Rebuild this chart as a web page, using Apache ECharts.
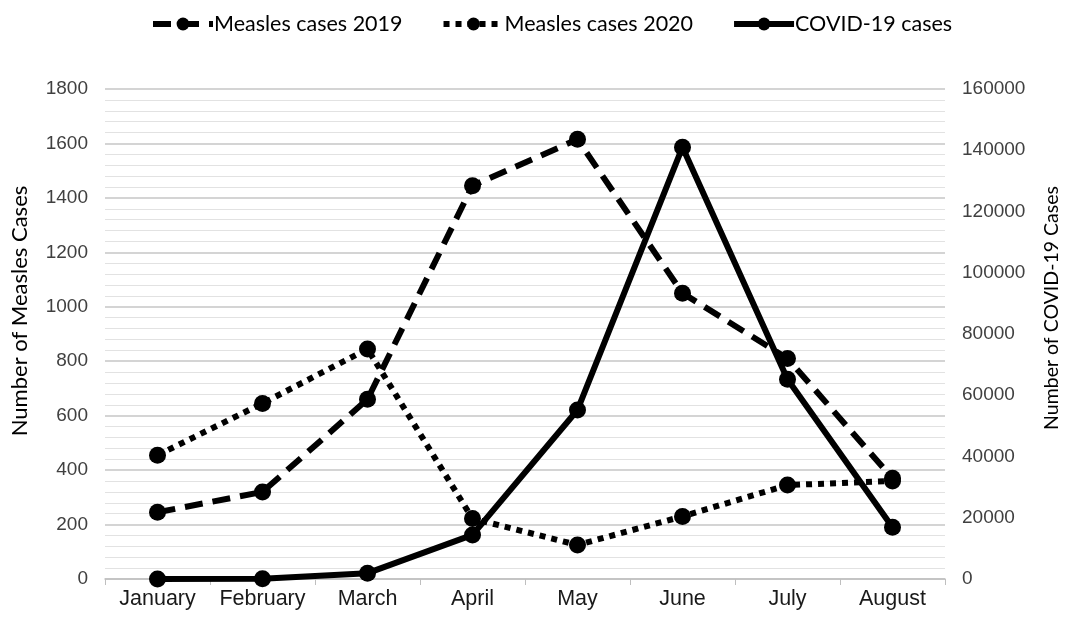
<!DOCTYPE html>
<html>
<head>
<meta charset="utf-8">
<script src="https://cdn.jsdelivr.net/npm/echarts@6/dist/echarts.min.js"></script>
<style>
html,body{margin:0;padding:0;background:#fff;}
#chart{width:1065px;height:617px;}
</style>
</head>
<body>
<div id="chart"></div>
<script>
const months = ['January','February','March','April','May','June','July','August'];
const measles2019 = [245, 320, 660, 1445, 1615, 1050, 810, 370];
const measles2020 = [455, 645, 845, 222, 125, 230, 345, 360];
const covid19 = [0, 100, 1900, 14400, 55200, 141000, 65200, 16900];
const leftTicks = {min: 0, max: 1800, interval: 200};
const rightTicks = {min: 0, max: 160000, interval: 20000};

const chart = echarts.init(document.getElementById('chart'), null, {renderer: 'canvas'});
const lineW = 6;
const sym = 17;
chart.setOption({
  animation: false,
  backgroundColor: '#fff',
  legend: {
    top: 8,
    left: 145,
    itemWidth: 60,
    itemHeight: 16,
    itemGap: 38,
    lineStyle: {width: 6},
    textStyle: {fontFamily: 'Lato', fontSize: 21.5, color: '#000', padding: [0,0,0,-4]},
    data: ['Measles cases 2019', 'Measles cases 2020', 'COVID-19 cases']
  },
  grid: {left: 105, right: 120, top: 89, bottom: 38, containLabel: false, outerBoundsMode: 'none'},
  xAxis: {
    type: 'category',
    data: months,
    boundaryGap: true,
    axisLine: {lineStyle: {color: '#bfbfbf', width: 1.5}},
    axisTick: {show: true, length: 6, lineStyle: {color: '#bfbfbf'}},
    axisLabel: {interval: 0, fontFamily: 'Liberation Sans', fontSize: 21.5, color: '#1a1a1a', margin: 9}
  },
  yAxis: [
    {
      type: 'value',
      min: leftTicks.min, max: leftTicks.max, interval: leftTicks.interval,
      name: 'Number of Measles Cases',
      nameLocation: 'middle',
      nameGap: 74,
      nameTextStyle: {fontFamily: 'Lato', fontSize: 22, color: '#000', padding: [0,0,0,46]},
      axisLine: {show: false},
      axisTick: {show: false},
      axisLabel: {fontFamily: 'Liberation Sans', fontSize: 19, color: '#404040', margin: 17, formatter: v => String(v)},
      splitLine: {show: true, lineStyle: {color: '#c6c6c6', width: 1.5}},
      minorTick: {show: false, splitNumber: 5},
      minorSplitLine: {show: true, lineStyle: {color: '#e2e2e2', width: 1.2}}
    },
    {
      type: 'value',
      position: 'right',
      min: rightTicks.min, max: rightTicks.max, interval: rightTicks.interval,
      name: 'Number of COVID-19 Cases',
      nameLocation: 'middle',
      nameGap: 97,
      nameTextStyle: {fontFamily: 'Lato', fontSize: 19.5, color: '#000', padding: [0,0,0,52]},
      axisLine: {show: false},
      axisTick: {show: false},
      axisLabel: {fontFamily: 'Liberation Sans', fontSize: 19, color: '#404040', margin: 17, formatter: v => String(v)},
      splitLine: {show: false}
    }
  ],
  series: [
    {
      name: 'Measles cases 2019', type: 'line', yAxisIndex: 0, data: measles2019,
      symbol: 'circle', symbolSize: sym,
      lineStyle: {color: '#000', width: lineW, type: [18, 10]},
      itemStyle: {color: '#000'}
    },
    {
      name: 'Measles cases 2020', type: 'line', yAxisIndex: 0, data: measles2020,
      symbol: 'circle', symbolSize: sym,
      lineStyle: {color: '#000', width: lineW, type: [6, 6]},
      itemStyle: {color: '#000'}
    },
    {
      name: 'COVID-19 cases', type: 'line', yAxisIndex: 1, data: covid19,
      symbol: 'circle', symbolSize: sym,
      lineStyle: {color: '#000', width: lineW},
      itemStyle: {color: '#000'}
    }
  ]
});
</script>
</body>
</html>
